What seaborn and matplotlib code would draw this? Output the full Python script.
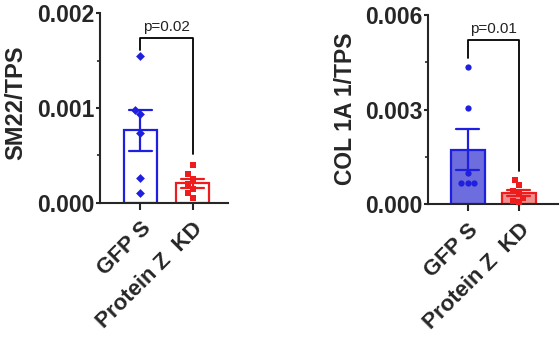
import numpy as np
import pandas as pd
import matplotlib
matplotlib.use("Agg")
import matplotlib.pyplot as plt
import seaborn as sns
from matplotlib.ticker import MultipleLocator

# ---- data ----
groups = ["GFP S", "Protein Z  KD"]
sm22_gfp = [0.00155, 0.00098, 0.00094, 0.00074, 0.00026, 0.00011]
sm22_kd = [0.00040, 0.00030, 0.00025, 0.00020, 0.00015, 0.00010, 0.00005]
col_gfp = [0.00436, 0.00306, 0.00098, 0.00066, 0.00066, 0.00066]
col_kd = [0.00075, 0.00060, 0.00040, 0.00035, 0.00020, 0.00010, 0.00005]
p_sm22 = "p=0.02"
p_col = "p=0.01"
sm22_ticks = [0.000, 0.001, 0.002]
col_ticks = [0.000, 0.003, 0.006]

sns.set_style("ticks")
plt.rcParams["font.family"] = ["Liberation Sans", "DejaVu Sans"]
plt.rcParams["font.weight"] = "bold"

BLUE = "#1f1fe0"
RED = "#ee1c1c"

fig = plt.figure(figsize=(5.6, 3.44), dpi=100)
ax1 = fig.add_axes([0.179, 0.410, 0.229, 0.552])
ax2 = fig.add_axes([0.764, 0.407, 0.232, 0.549])


def make_df(a, b):
    return pd.DataFrame({
        "group": [groups[0]] * len(a) + [groups[1]] * len(b),
        "value": list(a) + list(b),
    })


def panel(ax, a, b, fills, markers, ylabel, ylsize, ticks, ptext, xlim, width,
          labxy, gap_l, gap_r):
    df = make_df(a, b)
    sns.barplot(data=df, x="group", y="value", hue="group", order=groups,
                hue_order=groups, palette=fills, errorbar="se",
                width=width, linewidth=1.6, err_kws={"linewidth": 1.6},
                capsize=0.45, legend=False, ax=ax)
    edges = [BLUE, RED]
    for patch, ec in zip(ax.patches, edges):
        patch.set_edgecolor(ec)
    for line, ec in zip(ax.lines, edges):
        line.set_color(ec)
    for g, m, c in zip(groups, markers, edges):
        sub = df[df["group"] == g]
        sns.swarmplot(data=sub, x="group", y="value", order=groups,
                      color=c, marker=m, size=4.5, ax=ax, zorder=4)
    ax.set_xlim(*xlim)
    ax.set_ylim(ticks[0], ticks[-1])
    ax.set_yticks(ticks)
    ax.set_yticklabels([f"{t:.3f}" for t in ticks], fontsize=16.5, fontweight="bold")
    ax.yaxis.set_minor_locator(MultipleLocator((ticks[1] - ticks[0]) / 2))
    ax.tick_params(axis="y", which="major", length=3, width=1.5, pad=1)
    ax.tick_params(axis="y", which="minor", length=2.5, width=1.2)
    ax.tick_params(axis="x", length=5, width=1.5, pad=6)
    ax.set_xticks([0, 1])
    ax.set_xticklabels(groups, rotation=45, ha="right", rotation_mode="anchor",
                       fontsize=16, fontweight="bold")
    ax.set_xlabel("")
    ax.set_ylabel(ylabel, fontsize=ylsize, fontweight="bold")
    ax.yaxis.set_label_coords(*labxy)
    for s in ["top", "right"]:
        ax.spines[s].set_visible(False)
    for s in ["left", "bottom"]:
        ax.spines[s].set_linewidth(1.5)
    # significance bracket
    top = ticks[-1]
    yb = top * 0.87
    yl = max(a) + top * gap_l
    yr = np.mean(b) + np.std(b, ddof=1) / np.sqrt(len(b)) + top * gap_r
    ax.plot([0, 0, 1, 1], [yl, yb, yb, yr], color="black", lw=1.3, clip_on=False)
    ax.text(0.5, yb + top * 0.02, ptext, ha="center", va="bottom",
            fontsize=11, fontweight="normal", color="#222222")


panel(ax1, sm22_gfp, sm22_kd, ["white", "white"], ["D", "s"], "SM22/TPS", 17,
      sm22_ticks, p_sm22, (-0.77, 1.69), 0.63, (-0.57, 0.526), 0.03, 0.13)
panel(ax2, col_gfp, col_kd, ["#5a5af0", "#ff8080"], ["o", "s"], "COL 1A 1/TPS", 16.5,
      col_ticks, p_col, (-0.78, 1.76), 0.66, (-0.546, 0.505), 0.045, 0.1)

fig.savefig("out.png", dpi=100)
